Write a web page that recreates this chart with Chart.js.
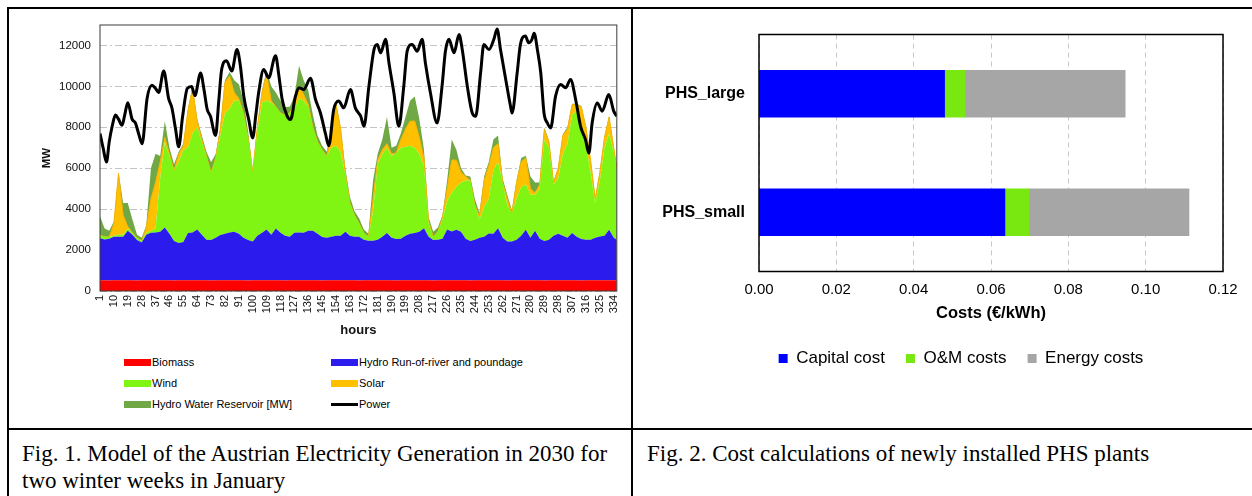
<!DOCTYPE html>
<html><head><meta charset="utf-8">
<script src="https://cdn.jsdelivr.net/npm/chart.js@4.4.1/dist/chart.umd.min.js"></script>
<style>
html,body{margin:0;padding:0;background:#fff;}
body{width:1252px;height:496px;position:relative;overflow:hidden;font-family:'Liberation Sans',Arial,sans-serif;}
canvas{position:absolute;top:0;}
#c1{left:0;}
#c2{left:633px;}
.ln{position:absolute;background:#000;z-index:10;}
.cap{position:absolute;top:440px;font-family:'Liberation Serif','Times New Roman',serif;font-size:23px;line-height:27px;color:#000;white-space:nowrap;}
.li{position:absolute;height:14px;font-size:11px;color:#000;line-height:14px;white-space:nowrap;}
.sw{position:absolute;left:0;width:27px;}
</style>
</head><body>
<canvas id="c1" width="631" height="340"></canvas>
<canvas id="c2" width="619" height="428"></canvas>
<div id="legend1"></div>
<div class="ln" style="left:7px;top:7px;width:1245px;height:2px;"></div>
<div class="ln" style="left:7px;top:7px;width:2px;height:489px;"></div>
<div class="ln" style="left:631px;top:7px;width:2px;height:489px;"></div>
<div class="ln" style="left:7px;top:428px;width:1245px;height:2px;"></div>
<div class="cap" style="left:22px;">Fig. 1. Model of the Austrian Electricity Generation in 2030 for<br>two winter weeks in January</div>
<div class="cap" style="left:647px;">Fig. 2. Cost calculations of newly installed PHS plants</div>
<script>
// ---------- Fig. 1 data (MW) ----------
const hours = [1,4,7,10,13,16,19,22,25,28,31,34,37,40,43,46,49,52,55,
58,61,64,67,70,73,76,79,82,85,88,91,94,97,100,103,106,109,
112,115,118,121,124,127,130,133,136,139,142,145,148,151,154,157,160,163,166,
169,172,175,178,181,184,187,190,193,196,199,202,205,208,211,214,217,220,223,
226,229,232,235,238,241,244,247,250,253,256,259,262,265,268,271,274,277,280,
283,286,289,292,295,298,301,304,307,310,313,316,319,322,325,328,331,334,336];
const hourTicks = [1,10,19,28,37,46,55,64,73,82,91,100,109,118,127,136,145,154,163,172,181,190,199,208,217,226,235,244,253,262,271,280,289,298,307,316,325,334];
const mwTicks = [0,2000,4000,6000,8000,10000,12000];
const biomass = [520,520,510,520,520,525,520,520,515,520,520,520,525,520,520,520,515,520,520,
520,525,520,520,520,515,520,520,520,525,520,520,520,515,520,520,520,525,
520,520,520,515,520,520,525,520,520,520,520,515,520,520,520,525,520,520,520,
515,520,520,520,525,520,520,520,515,520,520,520,525,520,520,520,515,520,520,
520,525,520,520,520,515,520,520,520,525,520,520,520,515,520,520,520,525,520,
520,520,515,520,520,520,525,520,520,520,515,520,520,520,525,520,520,520,520];
const hydroRoR = [2060,2000,2040,2130,2130,2130,2430,2230,1980,1850,2230,2330,2330,2380,2580,2280,1930,1830,1880,
2310,2330,2480,2230,1980,1980,2080,2220,2280,2330,2380,2280,2080,1980,1900,2180,2330,2480,
2230,2530,2330,2180,2130,2330,2330,2330,2430,2430,2280,2130,2080,2130,2180,2180,2380,2180,2130,
2140,1980,1930,1930,1980,2130,2310,2080,2030,2030,2180,2280,2310,2380,2550,2130,1980,1980,2030,
2480,2380,2470,2380,2030,1930,1980,2080,2130,2280,2280,2550,2080,1900,1900,1980,2180,2470,2080,
2430,2030,1930,1980,2180,2280,2180,2080,2310,2130,2030,1980,1980,2080,2140,2180,2470,2080,1980];
const wind = [140,130,90,50,100,100,100,100,100,80,100,100,200,2600,4200,3800,3450,3950,4500,
4170,4850,5000,4550,4100,3300,3900,4860,5900,6050,6400,6500,6100,5000,3380,5100,6350,6300,
6450,5950,5850,5900,6050,6050,6550,6450,6050,5050,4500,4250,4000,4350,4400,4100,2800,1600,1050,
640,330,200,1450,3700,4050,4170,4000,4200,4450,4350,4300,4170,3800,3030,650,150,400,950,
1400,1900,2110,2400,2850,2950,1700,900,1450,1700,3100,3230,2700,1780,1380,2000,2400,2210,2100,
1750,2450,4950,4500,2500,2700,4000,4600,5770,6150,5650,4600,3300,1700,2740,4300,4710,4200,3500];
const solar = [0,0,0,600,3000,950,100,0,0,0,250,1550,2250,800,200,100,0,400,200,
1800,2200,300,100,0,0,0,300,1500,1600,400,100,0,0,0,200,500,1300,
100,0,0,0,0,200,600,300,100,0,0,0,0,900,2000,1100,50,0,0,
0,0,0,600,200,200,200,100,0,400,850,1200,1300,800,400,100,0,0,100,
600,1600,1300,500,200,0,0,150,1300,1600,1100,900,0,300,0,800,1200,1300,300,
100,200,500,300,100,500,900,700,500,300,800,900,600,200,400,500,800,200,50];
const reservoir = [930,400,300,100,50,600,1150,650,150,150,100,1500,1400,300,800,300,300,100,100,
100,100,100,200,200,500,200,100,100,200,600,700,600,300,100,100,100,200,
700,700,600,400,300,400,1000,700,700,600,300,200,200,100,100,100,250,300,200,
250,170,150,900,300,500,1300,300,350,300,600,1000,1200,900,400,200,250,200,100,
400,1000,500,200,50,200,300,150,200,200,400,400,200,200,150,100,200,100,600,
500,100,100,50,50,50,50,100,50,50,50,50,50,50,50,50,50,50,50];
const powerHours = [1,3,5.2,7,8.9,11,13,15.3,17,19,21.8,24,26,28.3,31.5,34.7,37,39,42.3,45.5,47.6,50,52,54.5,57.6,60.4,62.5,66.2,68.5,70.5,72.6,75.9,78,79.8,83,86.4,89.8,92,94.2,97.4,100,102,103.8,107.1,110.3,114.8,117,119.1,122.4,124.5,127.7,129.9,133.1,137.4,140.7,143.9,147.1,149.3,152.5,155.7,159,163.3,166.5,170,172.1,175.3,178.6,180.7,182.9,186.1,188.3,191.5,194.7,197.9,200.1,203.3,206.6,209.8,211.9,215.2,219.5,222.7,224.9,227.2,230.5,233.7,235.8,239.1,242.3,244.5,247.7,249.8,253.1,256.3,258.4,260.6,263.8,267.1,268.1,271.4,273.5,276.7,278.9,281,282.4,284.5,286.7,288.8,291,293.1,296.3,299.6,302.8,306,309.3,312.5,315.7,317.9,320,323.3,326.5,330.8,334,336];
const powerMW = [7700,7000,6300,7300,8050,8600,8400,8100,8600,9200,8400,8200,7700,7200,9400,10050,9900,9700,10750,9400,8950,7900,7050,8500,9900,10000,9550,10650,9800,8870,8540,7600,9300,10800,11250,10750,11800,11000,9520,8380,7480,8600,9680,10830,10420,11500,10500,9360,8540,8380,9520,9930,9850,10400,9360,8700,7700,7100,8870,9280,8950,9850,8950,8540,8050,10000,11800,12050,11640,12300,11150,9680,8050,10000,11720,12050,11720,12300,11150,9680,8210,10000,11720,12300,11640,12540,11800,10000,8700,8540,10660,12050,11800,12300,12800,11800,10420,9030,8700,10660,12050,12460,12130,12300,12600,11800,10660,8700,8210,7970,9520,10090,9930,10340,9360,8050,7400,6740,8210,9190,8790,9600,8790,8540];

// ---------- Fig. 2 data (EUR/kWh) ----------
const plants = ['PHS_large','PHS_small'];
const capitalCost = [0.0480, 0.0636];
const omCost = [0.0053, 0.0062];
const energyCost = [0.0414, 0.0414];
const costTicks = [0, 0.02, 0.04, 0.06, 0.08, 0.10, 0.12];

Chart.defaults.font.family = "'Liberation Sans', Arial, sans-serif";
Chart.defaults.color = '#000';

const frame = {
  id: 'frame',
  afterDatasetsDraw(chart, args, opts) {
    const {ctx, chartArea: a} = chart;
    ctx.save();
    ctx.strokeStyle = opts.color || '#000';
    ctx.lineWidth = opts.width || 1;
    ctx.strokeRect(a.left, a.top, a.right - a.left, a.bottom - a.top);
    ctx.restore();
  }
};

// shifts the library legend horizontally after layout
const legendShift = {
  id: 'legendShift',
  afterLayout(chart, args, opts) {
    const lg = chart.legend;
    if (lg && opts.dx) { lg.left += opts.dx; lg.right += opts.dx; }
  }
};

function area(label, values, color, idx, border, bw) {
  return {
    label, data: hours.map((h, i) => ({x: h, y: values[i]})),
    backgroundColor: color, borderColor: border || color, borderWidth: bw || 0,
    pointRadius: 0, fill: idx === 0 ? 'origin' : '-1', stack: 'gen', tension: 0
  };
}

const chart1 = new Chart(document.getElementById('c1'), {
  type: 'line',
  data: { datasets: [
    area('Biomass', biomass, '#ff0000', 0),
    area('Hydro Run-of-river and poundage', hydroRoR, '#2b1bec', 1),
    area('Wind', wind, '#80f514', 2),
    area('Solar', solar, '#ffc000', 3, '#f2b200', 1),
    area('Hydro Water Reservoir [MW]', reservoir, '#6fa844', 4),
    { label: 'Power', data: powerHours.map((h, i) => ({x: h, y: powerMW[i]})),
      borderColor: '#000', backgroundColor: '#000', borderWidth: 3, pointRadius: 0,
      fill: false, stack: 'power', order: -1, cubicInterpolationMode: 'monotone' }
  ]},
  options: {
    responsive: false, animation: false,
    layout: { padding: { top: 25, right: 11, left: 30, bottom: 0 } },
    scales: {
      x: {
        type: 'linear', min: 1, max: 336,
        afterBuildTicks: axis => { axis.ticks = hourTicks.map(v => ({value: v})); },
        afterFit: s => { s.height = 49; },
        ticks: { autoSkip: false, minRotation: 90, maxRotation: 90, padding: 4,
                 font: { size: 11 }, color: '#111', callback: v => String(v) },
        grid: { display: false, drawTicks: false },
        border: { display: false },
        title: { display: true, text: 'hours', font: { size: 13, weight: 'bold' }, color: '#111', padding: { top: 0, bottom: 2 } }
      },
      y: {
        stacked: true, min: 0, max: 13000,
        afterBuildTicks: axis => { axis.ticks = mwTicks.map(v => ({value: v})); },
        afterFit: s => { s.width = 70; },
        ticks: { padding: 9, font: { size: 11.5 }, color: '#111', callback: v => String(v) },
        grid: { color: '#c4c4c4', drawTicks: false, lineWidth: 1 },
        border: { display: false, dash: [7, 3, 2, 3] },
        title: { display: true, text: 'MW', font: { size: 11.5, weight: 'bold' }, color: '#111', padding: { top: 10, bottom: 0 } }
      }
    },
    plugins: { legend: { display: false }, tooltip: { enabled: false }, frame: { color: '#3a3a3a', width: 1 } }
  },
  plugins: [frame]
});

// HTML legend for Fig. 1 built from the chart's datasets
(function () {
  const box = document.getElementById('legend1');
  chart1.data.datasets.forEach((ds, i) => {
    const col = i % 2, row = Math.floor(i / 2);
    const el = document.createElement('div');
    el.className = 'li';
    el.style.left = (col ? 331 : 124) + 'px';
    el.style.top = (355 + row * 21) + 'px';
    el.style.paddingLeft = '28px';
    const sw = document.createElement('span');
    sw.className = 'sw';
    const isLine = ds.fill === false;
    sw.style.height = isLine ? '3px' : '7px';
    sw.style.top = isLine ? '6px' : '4px';
    sw.style.background = isLine ? ds.borderColor : ds.backgroundColor;
    el.appendChild(sw);
    el.appendChild(document.createTextNode(ds.label));
    box.appendChild(el);
  });
})();

new Chart(document.getElementById('c2'), {
  type: 'bar',
  data: { labels: plants, datasets: [
    { label: 'Capital cost', data: capitalCost, backgroundColor: '#0000ff' },
    { label: 'O&M costs', data: omCost, backgroundColor: '#78e810' },
    { label: 'Energy costs', data: energyCost, backgroundColor: '#a6a6a6' }
  ]},
  options: {
    indexAxis: 'y', responsive: false, animation: false,
    datasets: { bar: { barThickness: 47 } },
    layout: { padding: { top: 34.5, right: 29, left: 0, bottom: 51 } },
    scales: {
      x: {
        stacked: true, min: 0, max: 0.12,
        afterBuildTicks: axis => { axis.ticks = costTicks.map(v => ({value: v})); },
        afterFit: s => { s.height = 57.5; },
        ticks: { padding: 9.5, font: { size: 15 }, color: '#000', callback: v => Number(v).toFixed(2) },
        grid: { color: '#c8c8c8', drawTicks: false },
        border: { display: false, dash: [5, 4] },
        title: { display: true, text: 'Costs (€/kWh)', font: { size: 16.5, weight: 'bold' }, color: '#000', padding: { top: 0, bottom: 6 } }
      },
      y: {
        stacked: true,
        afterFit: s => { s.width = 126; },
        ticks: { padding: 14, font: { size: 16, weight: 'bold' }, color: '#000' },
        grid: { display: false, drawTicks: false },
        border: { display: false }
      }
    },
    plugins: {
      legend: { position: 'bottom', labels: { boxWidth: 9, boxHeight: 9, padding: 21, font: { size: 17 }, color: '#000' } },
      legendShift: { dx: 33 },
      tooltip: { enabled: false },
      frame: { color: '#000', width: 1.5 }
    }
  },
  plugins: [frame, legendShift]
});
</script>
</body></html>
